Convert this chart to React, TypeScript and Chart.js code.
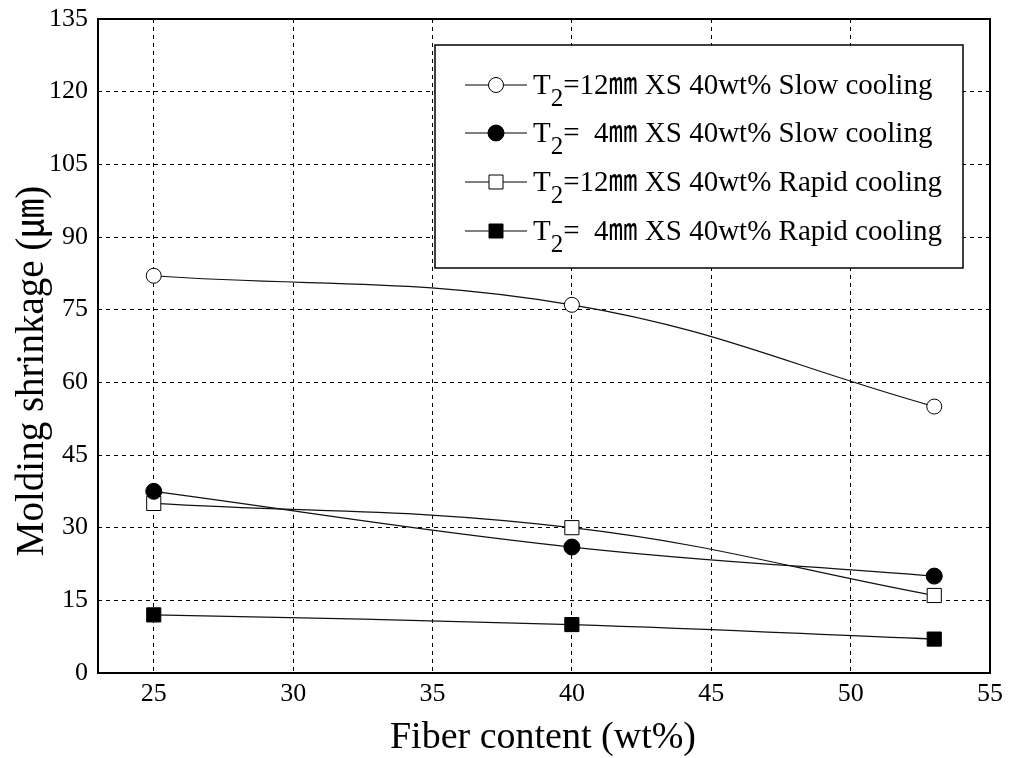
import React, { useEffect, useRef } from "react";
import { Chart, registerables } from "chart.js";

Chart.register(...registerables);

const fiberContent = [25, 40, 53];
const slow12 = [82, 76, 55];
const slow4 = [37.5, 26, 20];
const rapid12 = [35, 30, 16];
const rapid4 = [12, 10, 7];

const xTicks = [25, 30, 35, 40, 45, 50, 55];
const yTicks = [0, 15, 30, 45, 60, 75, 90, 105, 120, 135];

const legendRest = [
  "=12㎜ XS 40wt% Slow cooling",
  "=  4㎜ XS 40wt% Slow cooling",
  "=12㎜ XS 40wt% Rapid cooling",
  "=  4㎜ XS 40wt% Rapid cooling",
];

const xTitle = "Fiber content (wt%)";
const yTitle = "Molding shrinkage (㎛)";

const FONT = "'Liberation Serif', 'Times New Roman', 'Noto Sans CJK KR', serif";

type Marker = { style: "circle" | "rect"; fill: string };
const markers: Marker[] = [
  { style: "circle", fill: "#ffffff" },
  { style: "circle", fill: "#000000" },
  { style: "rect", fill: "#ffffff" },
  { style: "rect", fill: "#000000" },
];

function drawMarker(ctx: CanvasRenderingContext2D, m: Marker, x: number, y: number) {
  ctx.save();
  ctx.fillStyle = m.fill;
  ctx.strokeStyle = "#000";
  ctx.lineWidth = 1;
  ctx.beginPath();
  if (m.style === "circle") {
    const r = m.fill === "#000000" ? 8 : 7.5;
    ctx.arc(x, y, r, 0, Math.PI * 2);
  } else {
    ctx.rect(x - 7, y - 7, 14, 14);
  }
  ctx.fill();
  ctx.stroke();
  ctx.restore();
}

const frameAndLegend = {
  id: "frameAndLegend",
  afterDraw(chart: any) {
    const ctx: CanvasRenderingContext2D = chart.ctx;
    const a = chart.chartArea;
    ctx.save();
    ctx.strokeStyle = "#000";
    ctx.lineWidth = 2;
    ctx.strokeRect(a.left, a.top, a.right - a.left, a.bottom - a.top);

    // axis titles
    ctx.fillStyle = "#000";
    ctx.font = `38px ${FONT}`;
    ctx.textAlign = "center";
    ctx.textBaseline = "alphabetic";
    ctx.fillText(xTitle, 543, 748);
    ctx.save();
    ctx.translate(43, 371);
    ctx.rotate(-Math.PI / 2);
    ctx.font = `39px ${FONT}`;
    ctx.fillText(yTitle, 0, 0);
    ctx.restore();

    // legend box
    const bx = 435, by = 45, bw = 528, bh = 223;
    ctx.fillStyle = "#fff";
    ctx.fillRect(bx, by, bw, bh);
    ctx.strokeStyle = "#000";
    ctx.lineWidth = 1.5;
    ctx.strokeRect(bx, by, bw, bh);

    const rows = [85, 133, 182, 231];
    rows.forEach((ry, i) => {
      ctx.strokeStyle = "#000";
      ctx.lineWidth = 1.2;
      ctx.beginPath();
      ctx.moveTo(465, ry);
      ctx.lineTo(527, ry);
      ctx.stroke();
      drawMarker(ctx, markers[i], 496, ry);
      ctx.fillStyle = "#000";
      ctx.textBaseline = "alphabetic";
      ctx.textAlign = "left";
      const base = ry + 9;
      ctx.font = `29px ${FONT}`;
      ctx.fillText("T", 533, base);
      const tw = ctx.measureText("T").width;
      ctx.font = `25px ${FONT}`;
      ctx.fillText("2", 533 + tw, base + 12);
      const sw = ctx.measureText("2").width;
      ctx.font = `29px ${FONT}`;
      ctx.fillText(legendRest[i], 533 + tw + sw, base);
    });
    ctx.restore();
  },
};

export default function App() {
  const ref = useRef<HTMLCanvasElement | null>(null);
  useEffect(() => {
    if (!ref.current) return;
    const mk = (vals: number[], i: number) => ({
      label: legendRest[i],
      data: fiberContent.map((x, k) => ({ x, y: vals[k] })),
      borderColor: "#111",
      borderWidth: 1.2,
      tension: 0.4,
      pointStyle: markers[i].style,
      pointRadius: markers[i].style === "rect" ? 10 : i === 1 ? 8 : 7.5,
      pointBackgroundColor: markers[i].fill,
      pointBorderColor: "#000",
      pointBorderWidth: 1,
    });
    const chart = new Chart(ref.current, {
      type: "line",
      data: {
        datasets: [mk(slow12, 0), mk(slow4, 1), mk(rapid12, 2), mk(rapid4, 3)],
      },
      options: {
        animation: false,
        responsive: false,
        layout: { padding: { top: 19, right: 21, left: 0, bottom: 0 } },
        plugins: { legend: { display: false }, tooltip: { enabled: false } },
        scales: {
          x: {
            type: "linear",
            min: 23,
            max: 55,
            afterFit: (s: any) => { s.height = 85; s.paddingLeft = 0; s.paddingRight = 0; },
            afterBuildTicks: (s: any) => { s.ticks = xTicks.map((v) => ({ value: v })); },
            ticks: { includeBounds: false, font: { family: FONT, size: 26 }, color: "#000", padding: 6, maxRotation: 0 },
            grid: { color: "#000", lineWidth: 1, drawTicks: false },
            border: { display: false, dash: [4, 4] },
          },
          y: {
            type: "linear",
            min: 0,
            max: 135,
            afterFit: (s: any) => { s.width = 98; s.paddingTop = 0; s.paddingBottom = 0; },
            afterBuildTicks: (s: any) => { s.ticks = yTicks.map((v) => ({ value: v })); },
            ticks: { font: { family: FONT, size: 26 }, color: "#000", padding: 10 },
            grid: { color: "#000", lineWidth: 1, drawTicks: false },
            border: { display: false, dash: [4, 4] },
          },
        },
      } as any,
      plugins: [frameAndLegend],
    });
    return () => chart.destroy();
  }, []);
  return (
    <div style={{ position: "fixed", left: 0, top: 0, width: 1011, height: 758, background: "#fff" }}>
      <canvas ref={ref} width={1011} height={758} style={{ width: 1011, height: 758, display: "block" }} />
    </div>
  );
}
